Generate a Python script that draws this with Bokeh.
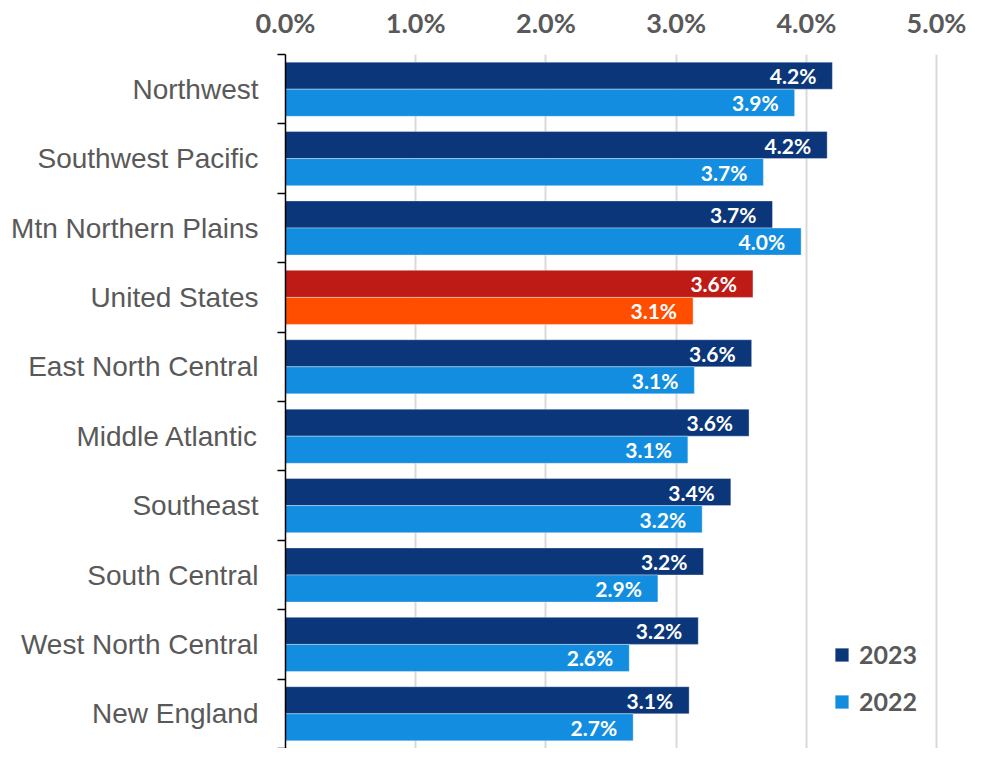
from bokeh.plotting import figure
from bokeh.models import Range1d, FixedTicker, Legend, LegendItem, ColumnDataSource
from bokeh.core.properties import value
from bokeh.embed import file_html
from bokeh.resources import INLINE

regions = ["Northwest", "Southwest Pacific", "Mtn Northern Plains", "United States",
           "East North Central", "Middle Atlantic", "Southeast", "South Central",
           "West North Central", "New England"]
v2023 = [4.20, 4.16, 3.74, 3.59, 3.58, 3.56, 3.42, 3.21, 3.17, 3.10]
v2022 = [3.91, 3.67, 3.96, 3.13, 3.14, 3.09, 3.20, 2.86, 2.64, 2.67]
x_ticks = [0, 1, 2, 3, 4, 5]
x_tick_labels = ["0.0%", "1.0%", "2.0%", "3.0%", "4.0%", "5.0%"]
highlight = "United States"

C23, C22 = "#0b3679", "#128de0"
H23, H22 = "#be1b17", "#ff4e00"
GRAY = "#595959"

n = len(regions)
centers = [n - i - 0.5 for i in range(n)]
off = 0.195
h = 0.39

src23 = ColumnDataSource(dict(
    y=[c + off for c in centers], x=v2023,
    color=[H23 if r == highlight else C23 for r in regions],
    lab=[f"{v:.1f}%" for v in v2023]))
src22 = ColumnDataSource(dict(
    y=[c - off for c in centers], x=v2022,
    color=[H22 if r == highlight else C22 for r in regions],
    lab=[f"{v:.1f}%" for v in v2022]))

p = figure(width=966, height=748, output_backend="svg", toolbar_location=None,
           x_range=Range1d(0, 5.23), y_range=Range1d(0, n),
           x_axis_location="above", min_border_left=285, min_border_top=54,
           min_border_right=0, min_border_bottom=0)
p.outline_line_color = None
p.background_fill_color = "white"

r23 = p.hbar(y="y", right="x", left=0, height=h, source=src23, fill_color="color",
             line_color="white", line_alpha=0.35, line_width=1)
r22 = p.hbar(y="y", right="x", left=0, height=h, source=src22, fill_color="color",
             line_color="white", line_alpha=0.35, line_width=1)

for s in (src23, src22):
    p.text(x="x", y="y", text="lab", source=s, x_offset=-16, text_align="right",
           text_baseline="middle", text_color="white", text_font=value("Lato"),
           text_font_style="bold", text_font_size="21px")

# x axis (top)
xa = p.xaxis[0]
xa.ticker = FixedTicker(ticks=x_ticks)
xa.major_label_overrides = {t: l for t, l in zip(x_ticks, x_tick_labels)}
xa.axis_line_color = None
xa.major_tick_line_color = None
xa.major_tick_out = 0
xa.major_tick_in = 0
xa.minor_tick_line_color = None
xa.minor_tick_out = 0
xa.major_label_text_font = "Lato"
xa.major_label_text_font_style = "bold"
xa.major_label_text_font_size = "27px"
xa.major_label_text_color = GRAY
xa.major_label_standoff = 16

p.xgrid.ticker = FixedTicker(ticks=x_ticks)
p.xgrid.grid_line_color = "#d9d9d9"
p.xgrid.grid_line_width = 2
p.ygrid.grid_line_color = None

# y axis
ya = p.yaxis[0]
ya.ticker = FixedTicker(ticks=centers, minor_ticks=list(range(n + 1)))
ya.major_label_overrides = {c: r for c, r in zip(centers, regions)}
ya.axis_line_color = "black"
ya.axis_line_width = 1.5
ya.major_tick_out = 0
ya.major_tick_in = 0
ya.major_tick_line_color = None
ya.minor_tick_out = 8
ya.minor_tick_in = 0
ya.minor_tick_line_color = "black"
ya.minor_tick_line_width = 1.5
ya.major_label_text_font = "Liberation Sans"
ya.major_label_text_font_size = "28px"
ya.major_label_text_color = GRAY
ya.major_label_standoff = 19

legend = Legend(items=[LegendItem(label="2023", renderers=[r23], index=0),
                       LegendItem(label="2022", renderers=[r22], index=0)],
                location=(548, 32), orientation="vertical")
legend.label_text_font = "Lato"
legend.label_text_font_style = "bold"
legend.label_text_font_size = "25px"
legend.label_text_color = GRAY
legend.glyph_width = 17
legend.glyph_height = 17
legend.label_height = 26
legend.label_standoff = 9
legend.spacing = 17
legend.padding = 12
legend.border_line_color = None
legend.background_fill_color = "white"
legend.background_fill_alpha = 1
p.add_layout(legend, "center")

open("out.html", "w").write(file_html(p, INLINE))
